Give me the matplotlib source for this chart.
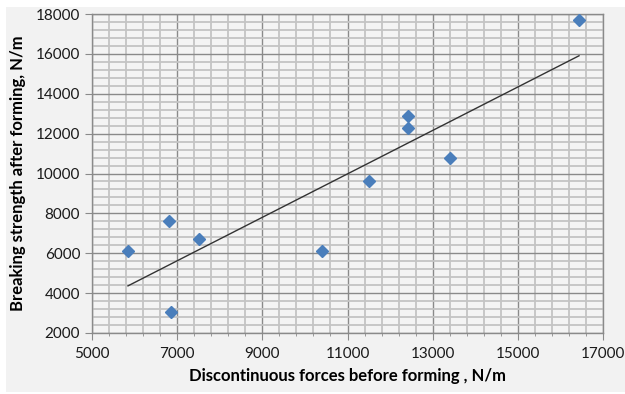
import numpy as np
from matplotlib import pyplot as plt
from matplotlib.patches import Rectangle

# measured points
forces_before = [5845, 6808, 6855, 7513, 10402, 11505, 12421, 12421, 13408, 16437]
strength_after = [6100, 7600, 3050, 6700, 6100, 9600, 12900, 12300, 10800, 17700]

x_ticks = [5000, 7000, 9000, 11000, 13000, 15000, 17000]
y_ticks = [2000, 4000, 6000, 8000, 10000, 12000, 14000, 16000, 18000]

x_label = 'Discontinuous forces before forming , N/m'
y_label = 'Breaking strength after forming, N/m'

plt.rcParams['font.family'] = ['Lato', 'DejaVu Sans']

fig = plt.figure(figsize=(6.25, 3.94), dpi=100, facecolor='white')
fig.patches.append(Rectangle((6 / 625, 2 / 394), 619 / 625, 385 / 394,
                             transform=fig.transFigure, facecolor='#f2f2f2',
                             edgecolor='none', zorder=-10))
ax = fig.add_axes([92 / 625, 1 - 333 / 394, 511 / 625, 319 / 394])
ax.set_zorder(1)
ax.set_facecolor('#f4f4f4')

ax.set_xlim(5000, 17000)
ax.set_ylim(2000, 18000)
ax.set_xticks(x_ticks)
ax.set_xticks(np.arange(5000, 17001, 400), minor=True)
ax.set_yticks(y_ticks)
ax.set_yticks(np.arange(2000, 18001, 400), minor=True)

ax.grid(which='minor', color='#c4c4c4', linewidth=1.3, zorder=0)
ax.grid(which='major', color='#8a8a8a', linewidth=1.0, zorder=0)
ax.set_axisbelow(True)

for side, sp in ax.spines.items():
    sp.set_color('#8a8a8a')
    sp.set_linewidth(1.0)

ax.tick_params(which='major', length=5, color='#8a8a8a', labelsize=11,
               labelcolor='#1a1a1a')
ax.tick_params(which='minor', length=2, color='#8a8a8a')
ax.tick_params(axis='y', which='minor', length=0)
ax.tick_params(axis='x', pad=5)

# linear trend line (excel style)
slope, intercept = np.polyfit(forces_before, strength_after, 1)
xs = np.array([min(forces_before), max(forces_before)])
ax.plot(xs, slope * xs + intercept, color='#333333', linewidth=1.0, zorder=2)

ax.plot(forces_before, strength_after, linestyle='none', marker='D', ms=6.5,
        mfc='#4a7ebb', mec='#4a7ebb', zorder=3, clip_on=False)

ax.set_xlabel(x_label, fontsize=12, fontweight='bold', labelpad=5)
ax.set_ylabel(y_label, fontsize=12, fontweight='bold', labelpad=7)

fig.savefig('out.png', dpi=100, facecolor=fig.get_facecolor())
